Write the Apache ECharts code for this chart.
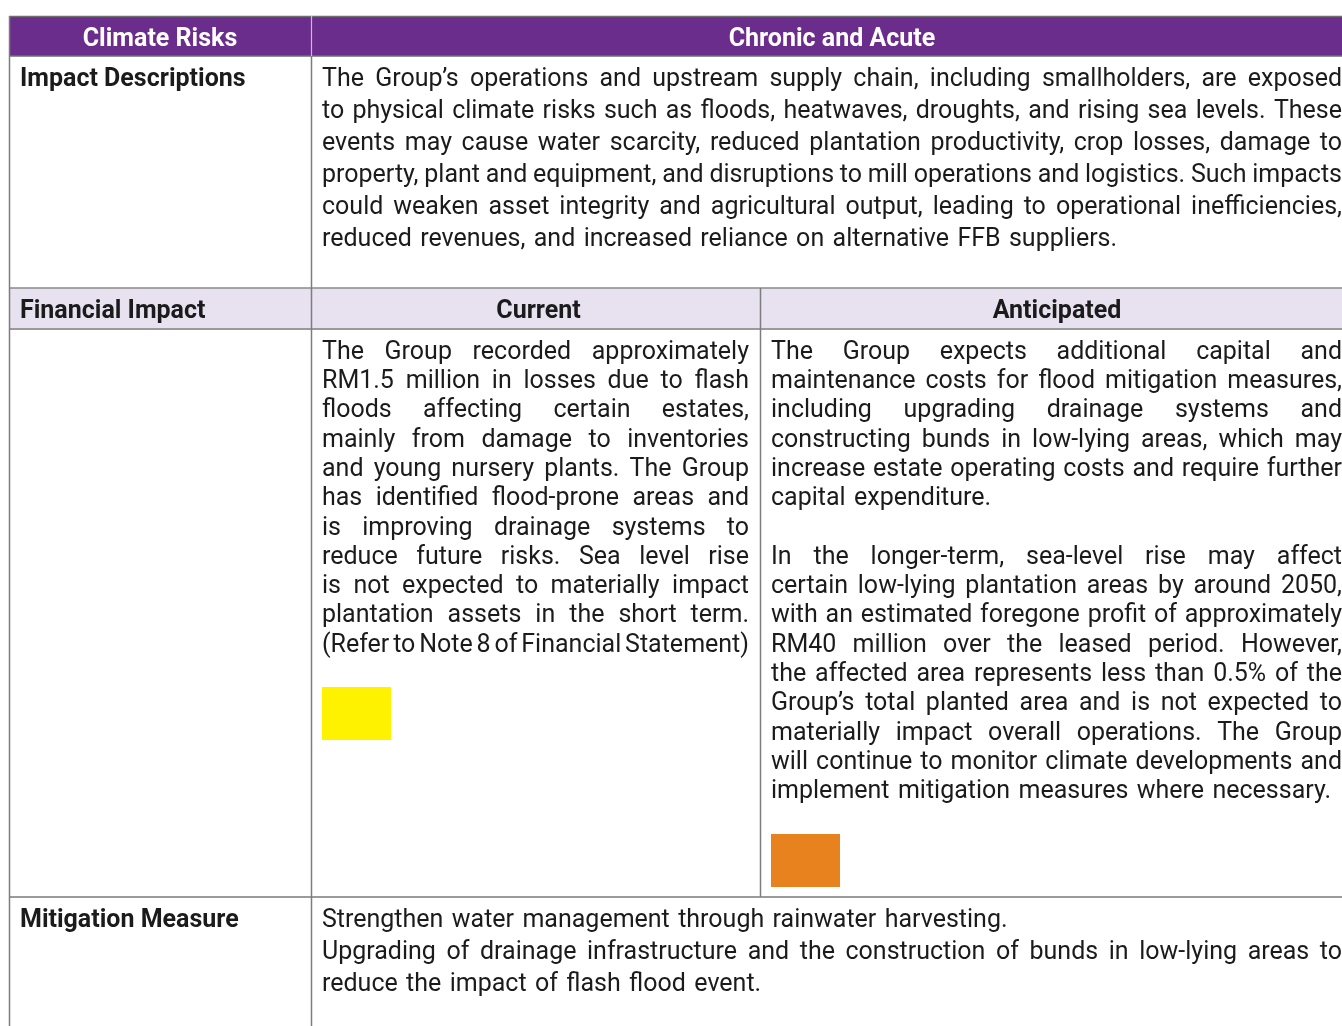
<!DOCTYPE html>
<html><head><meta charset="utf-8">
<style>html,body{margin:0;padding:0;background:#fff}#c{width:1342px;height:1026px}</style>
<script src="https://cdn.jsdelivr.net/npm/echarts@6/dist/echarts.min.js"></script>
</head><body><div id="c"></div>
<script>
const headerLabels = ["Climate Risks", "Chronic and Acute"];
const rowLabels = ["Impact Descriptions", "Financial Impact", "Mitigation Measure"];
const subHeaders = ["Current", "Anticipated"];
const impactParagraphs = [[
  "The Group\u2019s operations and upstream supply chain, including smallholders, are exposed",
  "to physical climate risks such as floods, heatwaves, droughts, and rising sea levels. These",
  "events may cause water scarcity, reduced plantation productivity, crop losses, damage to",
  "property, plant and equipment, and disruptions to mill operations and logistics. Such impacts",
  "could weaken asset integrity and agricultural output, leading to operational inefficiencies,",
  "reduced revenues, and increased reliance on alternative FFB suppliers."
]];
const currentParagraphs = [[
  "The Group recorded approximately",
  "RM1.5 million in losses due to flash",
  "floods affecting certain estates,",
  "mainly from damage to inventories",
  "and young nursery plants. The Group",
  "has identified flood-prone areas and",
  "is improving drainage systems to",
  "reduce future risks. Sea level rise",
  "is not expected to materially impact",
  "plantation assets in the short term.",
  "(Refer to Note 8 of Financial Statement)"
]];
const anticipatedParagraphs = [[
  "The Group expects additional capital and",
  "maintenance costs for flood mitigation measures,",
  "including upgrading drainage systems and",
  "constructing bunds in low-lying areas, which may",
  "increase estate operating costs and require further",
  "capital expenditure."
], [
  "In the longer-term, sea-level rise may affect",
  "certain low-lying plantation areas by around 2050,",
  "with an estimated foregone profit of approximately",
  "RM40 million over the leased period. However,",
  "the affected area represents less than 0.5% of the",
  "Group\u2019s total planted area and is not expected to",
  "materially impact overall operations. The Group",
  "will continue to monitor climate developments and",
  "implement mitigation measures where necessary."
]];
const mitigationParagraphs = [[
  "Strengthen water management through rainwater harvesting."
], [
  "Upgrading of drainage infrastructure and the construction of bunds in low-lying areas to",
  "reduce the impact of flash flood event."
]];
const ratingColors = ["#fff200", "#e8821e"];

// ---- layout ----
const FAMILY = "Roboto";
const BODY = 25;
const HEAD = 25;
const PURPLE = "#6b2d8b", LAV = "#e7e1f0", BORDER = "#7d7d7d", INK = "#1b1b1b";
const X0 = 9, XC1 = 311, XC2 = 760, XR = 1346;
const Y0 = 16, Y1 = 56, Y2 = 288, Y3 = 329, Y4 = 897, Y5 = 1030;
const DY = 2.5;

const cv = document.createElement("canvas").getContext("2d");
function measure(t, size, weight) { cv.font = (weight || "normal") + " " + size + "px " + FAMILY; return cv.measureText(t).width; }

const els = [];
function rect(x, y, w, h, fill) { els.push({type: "rect", shape: {x, y, width: w, height: h}, style: {fill}, z: 1}); }
function line(x1, y1, x2, y2, w, c) { els.push({type: "line", shape: {x1, y1, x2, y2}, style: {stroke: c || BORDER, lineWidth: w || 1}, z: 5}); }
function text(t, x, y, opts) {
  opts = opts || {};
  els.push({type: "text", x, y: y + DY, scaleX: opts.sx || 1, z: 10,
    style: {text: t, fill: opts.fill || INK, font: (opts.weight || "normal") + " " + (opts.size || BODY) + "px " + FAMILY,
      textAlign: opts.align || "left", textVerticalAlign: "middle"}});
}
function paragraphs(paras, left, right, y0, step, gapLines, forceJustifyLast) {
  let y = y0;
  const avail = right - left;
  paras.forEach((lines, pi) => {
    lines.forEach((ln, li) => {
      const last = li === lines.length - 1 && !forceJustifyLast;
      const words = ln.split(" ");
      const ww = words.map(w => measure(w, BODY));
      const sum = ww.reduce((a, b) => a + b, 0);
      const sp = measure(" ", BODY);
      const minGap = sp * 0.45;
      if (last || words.length < 2) {
        let gap = sp * 1.35;
        let natural = sum + gap * (words.length - 1);
        let s = natural > avail ? avail / natural : 1;
        let x = left;
        words.forEach((w, i) => { text(w, x, y, {sx: s}); x += (ww[i] + gap) * s; });
      } else {
        let gap = (avail - sum) / (words.length - 1);
        let s = 1;
        if (gap < minGap) { s = avail / (sum + minGap * (words.length - 1)); gap = minGap * s; }
        let x = left;
        words.forEach((w, i) => { text(w, x, y, {sx: s}); x += ww[i] * s + gap; });
      }
      y += step;
    });
    if (pi < paras.length - 1) y += step * gapLines;
  });
}

// backgrounds
rect(X0, Y0, XR - X0, Y1 - Y0, PURPLE);
rect(X0, Y2, XR - X0, Y3 - Y2, LAV);
// colour rating swatches
rect(322, 687, 69, 53, ratingColors[0]);
rect(771, 834, 69, 53, ratingColors[1]);

// borders
line(X0, Y0 + 0.5, XR, Y0 + 0.5, 1.5, "#6e6e6e");
line(X0, Y1, XR, Y1, 1.5, "#6e6e6e");
line(X0, Y2, XR, Y2, 1.5, "#8a8a8a");
line(X0, Y3, XR, Y3, 2, "#9a9a9a");
line(X0, Y4, XR, Y4, 1.5, "#7a7a7a");
line(X0 + 0.5, Y0, X0 + 0.5, Y5, 1.5);
line(XC1 + 0.5, Y0, XC1 + 0.5, Y1, 1.2, "#c9b8d6");
line(XC1 + 0.5, Y1, XC1 + 0.5, Y5, 1.5);
line(XC2 + 0.5, Y2, XC2 + 0.5, Y4, 1.5);

// headers
text(headerLabels[0], (X0 + XC1) / 2, 37, {fill: "#ffffff", weight: "bold", size: HEAD, align: "center"});
text(headerLabels[1], 832, 37, {fill: "#ffffff", weight: "bold", size: HEAD, align: "center"});
text(subHeaders[0], (XC1 + XC2) / 2 + 3, 309, {weight: "bold", size: HEAD, align: "center"});
text(subHeaders[1], 1057, 309, {weight: "bold", size: HEAD, align: "center"});
text(rowLabels[0], 20, 77, {weight: "bold", size: HEAD});
text(rowLabels[1], 20, 309, {weight: "bold", size: HEAD});
text(rowLabels[2], 20, 918, {weight: "bold", size: HEAD});

// body
paragraphs(impactParagraphs, 322, 1342, 77, 32, 0, false);
paragraphs(currentParagraphs, 322, 749, 350, 29.3, 0, true);
paragraphs(anticipatedParagraphs, 771, 1342, 350, 29.3, 1, false);
paragraphs(mitigationParagraphs, 322, 1342, 918, 32, 0, false);

const chart = echarts.init(document.getElementById("c"), null, {renderer: "canvas"});
chart.setOption({animation: false, graphic: {elements: els}});
</script></body></html>
